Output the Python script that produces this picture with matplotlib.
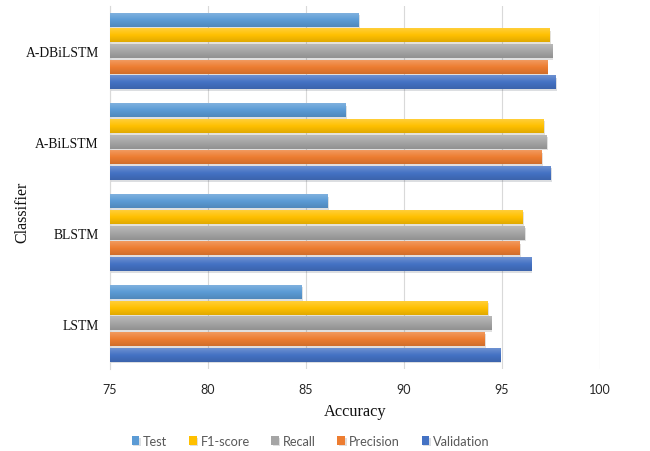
import numpy as np
import matplotlib
matplotlib.use("Agg")
import matplotlib.pyplot as plt
import matplotlib.patheffects as pe
from matplotlib.colors import to_rgb

# accuracy scores per classifier (bottom to top on the chart)
classifiers = ["LSTM", "BLSTM", "A-BiLSTM", "A-DBiLSTM"]
validation = [94.9, 96.48, 97.47, 97.72]
precision = [94.1, 95.88, 97.0, 97.3]
recall = [94.44, 96.14, 97.28, 97.55]
f1_score = [94.25, 96.04, 97.13, 97.41]
test = [84.76, 86.1, 87.02, 87.67]

series = [
    ("Validation", validation, "#4472C4"),
    ("Precision", precision, "#ED7D31"),
    ("Recall", recall, "#A5A5A5"),
    ("F1-score", f1_score, "#FFC000"),
    ("Test", test, "#5B9BD5"),
]

BASE = 75
PITCH = 0.1725
HEIGHT = 0.147
GRAY = "#595959"


def shade(color, f):
    c = np.array(to_rgb(color))
    if f >= 0:
        return c + (1 - c) * f
    return c * (1 + f)


def gradient_bar(ax, patch, color):
    x, y = patch.get_x(), patch.get_y()
    w, h = patch.get_width(), patch.get_height()
    t = np.linspace(0, 1, 32)
    top, mid, bot = shade(color, 0.22), shade(color, 0.0), shade(color, -0.12)
    rows = []
    for v in t:
        if v < 0.5:
            rows.append(top + (mid - top) * (v / 0.5))
        else:
            rows.append(mid + (bot - mid) * ((v - 0.5) / 0.5))
    img = np.clip(np.array(rows), 0, 1).reshape(32, 1, 3)
    ax.imshow(img, extent=(x, x + w, y, y + h), origin="upper",
              aspect="auto", zorder=3, interpolation="bilinear")


fig = plt.figure(figsize=(6.5, 4.52), dpi=100)
ax = fig.add_axes([0.169, 0.181, 0.754, 0.804])

pos = np.arange(len(classifiers))
handles = {}
for k, (name, vals, color) in enumerate(series):
    offs = (k - 2) * PITCH
    bars = ax.barh(pos + offs, np.array(vals) - BASE, left=BASE,
                   height=HEIGHT, color=color, zorder=2, label=name)
    for b in bars:
        b.set_path_effects([pe.SimplePatchShadow(offset=(1, -1.2), alpha=0.15),
                            pe.Normal()])
        gradient_bar(ax, b, color)
    handles[name] = bars

ax.set_xlim(75, 100)
ax.set_ylim(-0.5, 3.5)
ax.set_xticks(np.arange(75, 101, 5))
ax.grid(axis="x", color="#D9D9D9", linewidth=0.8, zorder=0)
ax.set_axisbelow(True)
for s in ["top", "right", "bottom"]:
    ax.spines[s].set_visible(False)
ax.spines["left"].set_color("#D9D9D9")
ax.tick_params(length=0)
ax.tick_params(axis="x", pad=10, labelsize=9, labelcolor="#262626")
ax.tick_params(axis="y", pad=8)
for lbl in ax.get_xticklabels():
    lbl.set_fontfamily("Lato")

ax.set_yticks(pos)
ax.set_yticklabels(classifiers, fontfamily="Liberation Serif", fontsize=9.8,
                   color="#111111")
ax.set_xlabel("Accuracy", fontfamily="Liberation Serif", fontsize=11.8,
              color="#111111", labelpad=6)
fig.text(0.035, 0.531, "Classifier", rotation=90, ha="center", va="center",
         fontfamily="Liberation Serif", fontsize=11.5, color="#111111")

order = ["Test", "F1-score", "Recall", "Precision", "Validation"]
leg = fig.legend([handles[n] for n in order], order, loc="center",
                 bbox_to_anchor=(0.478, 0.022), ncol=5, frameon=False,
                 prop={"family": "Lato", "size": 9.2}, handlelength=0.6,
                 handleheight=0.6, handletextpad=0.3, columnspacing=1.7)
for t in leg.get_texts():
    t.set_color(GRAY)

fig.savefig("out.png", dpi=100)
